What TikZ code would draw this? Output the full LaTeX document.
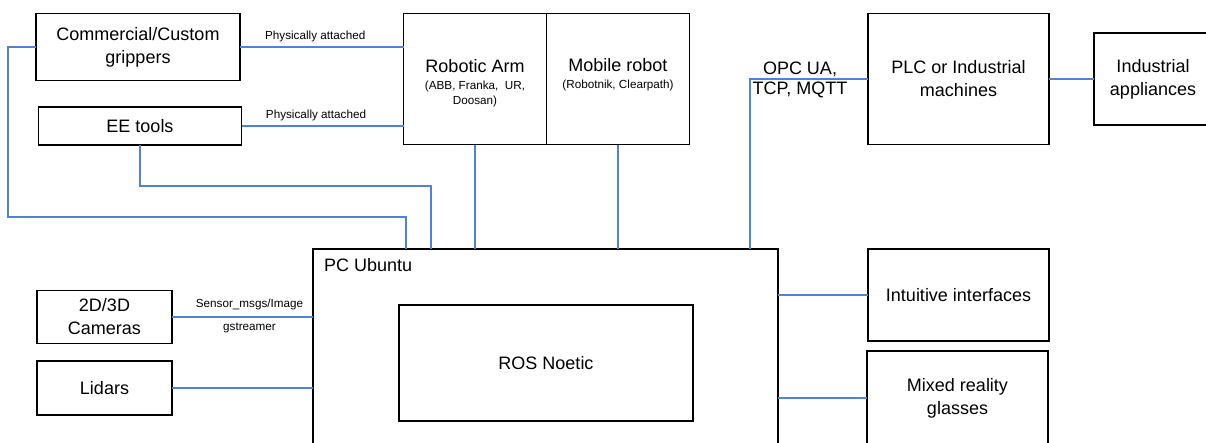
\documentclass[tikz,border=0pt]{standalone}
\usepackage{fontspec}
\setmainfont{Liberation Sans}
\usepackage{tikz}
\usetikzlibrary{positioning,calc}
\definecolor{wireblue}{RGB}{82,130,210}
\newcommand{\bigf}{\fontsize{18}{23}\selectfont}
\newcommand{\smallf}{\fontsize{11.7}{15}\selectfont}

\begin{document}
\begin{tikzpicture}[x=1pt,y=-1pt,
    box/.style={draw=black,line width=1.6pt,outer sep=0pt,inner sep=0pt,align=center,font=\bigf},
    wire/.style={draw=wireblue,line width=1.2pt},
    tag/.style={font=\smallf,inner sep=1pt}]
    \clip (0,0) rectangle (1206,442);
    \fill[white] (0,0) rectangle (1206,442);
    % robot side
    \node[box,minimum width=204pt,minimum height=67pt] (grip) at (138,47) {Commercial/Custom\\grippers};
    \node[box,minimum width=203pt,minimum height=38pt] (ee) at (140,126) {EE tools};
    \node[box,font=\smallf,minimum width=143pt,minimum height=131pt] (arm) at (475,79)
        {{\bigf\rule{0pt}{21pt}Robotic Arm}\\[2pt](ABB, Franka,~ UR,\\Doosan)};
    \node[box,font=\smallf,minimum width=143pt,minimum height=131pt,right=0pt of arm] (mob)
        {{\bigf\rule{0pt}{21pt}Mobile robot}\\[2pt](Robotnik, Clearpath)\\\strut};
    % industrial side
    \node[box,minimum width=181pt,minimum height=131pt] (plc) at (958.5,79) {PLC or Industrial\\machines};
    \node[box,minimum width=118pt,minimum height=92pt] (app) at (1153,79) {Industrial\\appliances};
    % computer
    \node[box,minimum width=465pt,minimum height=221pt] (pc) at (545.5,359.5) {};
    \node[font=\bigf,inner sep=0pt,anchor=north west] (pclbl) at ([xshift=11pt,yshift=-9pt]pc.north west) {PC Ubuntu};
    \node[box,minimum width=294pt,minimum height=116pt] (ros) at (546,363) {ROS Noetic};
    % sensors and interfaces
    \node[box,minimum width=135pt,minimum height=53pt] (cam) at (104.5,317) {2D/3D\\Cameras};
    \node[box,minimum width=135pt,minimum height=54pt] (lid) at (104.5,388) {Lidars};
    \node[box,minimum width=181pt,minimum height=92pt] (intu) at (958.5,295) {Intuitive interfaces};
    \node[box,minimum width=181pt,minimum height=94pt] (mr) at (957.5,398) {Mixed reality\\glasses};

    \coordinate (gcorner) at (8,217);
    \coordinate (gtap) at (406,249);
    \coordinate (ecorner) at (431,186);
    \coordinate (otap) at (750,249);

    \draw[wire] (grip.east) -- (grip.east -| arm.west)
        node[tag,pos=0.46,above=3pt] (pa1) {Physically attached};
    \draw[wire] (ee.east) -- (ee.east -| arm.west)
        node[tag,pos=0.46,above=3pt] (pa2) {Physically attached};
    \draw[wire] (grip.west) -| (gcorner) -| (gtap);
    \draw[wire] (ee.south) |- (ecorner) -- (ecorner |- pc.north);
    \draw[wire] (arm.south) -- (arm.south |- pc.north);
    \draw[wire] (mob.south) -- (mob.south |- pc.north);
    \draw[wire] (otap) |- (plc.west);
    \node[font=\bigf,align=center,inner sep=0pt] (opc) at (800,80) {OPC UA,\\[-3pt]TCP, MQTT};
    \draw[wire] (plc.east) -- (plc.east -| app.west);
    \draw[wire] (cam.east) -- (cam.east -| pc.west)
        node[tag,pos=0.55,above=5pt] (smsg) {Sensor\_msgs/Image}
        node[tag,pos=0.55,below=4pt] (gst) {gstreamer};
    \draw[wire] (lid.east) -- (lid.east -| pc.west);
    \draw[wire] (intu.west -| pc.east) -- (intu.west);
    \draw[wire] (mr.west -| pc.east) -- (mr.west);
\end{tikzpicture}
\end{document}
